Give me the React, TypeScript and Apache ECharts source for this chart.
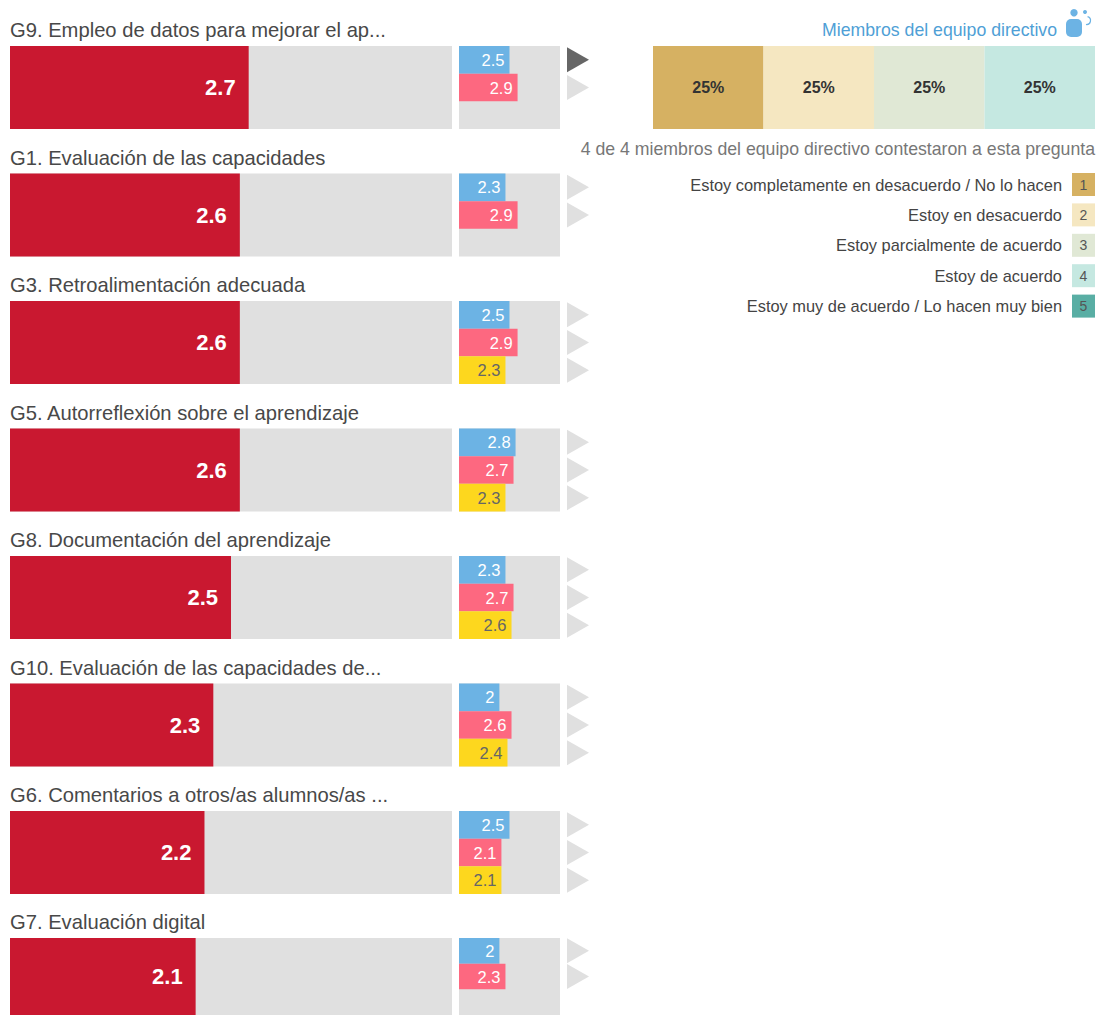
import React, { useEffect, useRef } from "react";
import * as echarts from "echarts";

const categories = [
  "G9. Empleo de datos para mejorar el ap...",
  "G1. Evaluación de las capacidades",
  "G3. Retroalimentación adecuada",
  "G5. Autorreflexión sobre el aprendizaje",
  "G8. Documentación del aprendizaje",
  "G10. Evaluación de las capacidades de...",
  "G6. Comentarios a otros/as alumnos/as ...",
  "G7. Evaluación digital",
];
const mainValues = [2.7, 2.6, 2.6, 2.6, 2.5, 2.3, 2.2, 2.1];
const blueValues = [2.5, 2.3, 2.5, 2.8, 2.3, 2, 2.5, 2];
const pinkValues = [2.9, 2.9, 2.9, 2.7, 2.7, 2.6, 2.1, 2.3];
const yellowValues: (number | null)[] = [null, null, 2.3, 2.3, 2.6, 2.4, 2.1, null];
const shareValues = [25, 25, 25, 25];
const shareColors = ["#d6b162", "#f5e7c1", "#e0e8d5", "#c5e8e1"];
const legendLabels = [
  "Estoy completamente en desacuerdo / No lo hacen",
  "Estoy en desacuerdo",
  "Estoy parcialmente de acuerdo",
  "Estoy de acuerdo",
  "Estoy muy de acuerdo / Lo hacen muy bien",
];
const legendColors = ["#d6b162", "#f5e7c1", "#e0e8d5", "#c5e8e1", "#59aea4"];
const headerLabel = "Miembros del equipo directivo";
const noteLabel = "4 de 4 miembros del equipo directivo contestaron a esta pregunta";

const FONT = "'Liberation Sans', Arial, sans-serif";
const ROW_TOPS = [46, 173.5, 301, 428.5, 556, 683.5, 811, 938];
const ROW_H = 83;
const BG = "#e0e0e0";

function buildOption() {
  const grid: any[] = [];
  const xAxis: any[] = [];
  const yAxis: any[] = [];
  const series: any[] = [];
  const graphic: any[] = [];
  let g = 0;
  const addGrid = (left: number, width: number, top: number, max: number, cats: string[], show: boolean) => {
    grid.push({
      left, width, top, height: ROW_H, show,
      backgroundColor: BG, borderWidth: 0,
    });
    xAxis.push({ type: "value", gridIndex: g, min: 0, max, show: false });
    yAxis.push({ type: "category", gridIndex: g, data: cats, inverse: true, show: false });
    return g++;
  };

  categories.forEach((name, i) => {
    graphic.push({
      type: "text", x: 10, y: ROW_TOPS[i] - 16,
      style: { text: name, fill: "#484848", font: `20.2px ${FONT}`, textAlign: "left", textVerticalAlign: "middle" },
    });
    const mg = addGrid(10, 442, ROW_TOPS[i], 5, [name], true);
    series.push({
      type: "bar", xAxisIndex: mg, yAxisIndex: mg, barWidth: "100%",
      data: [mainValues[i]], itemStyle: { color: "#c91830" },
      label: {
        show: true, position: "insideRight", distance: 13, color: "#ffffff",
        fontFamily: FONT, fontWeight: "bold", fontSize: 22,
      },
    });
    const groups = [
      { v: blueValues[i], c: "#6cb3e4", t: "#ffffff" },
      { v: pinkValues[i], c: "#fd6880", t: "#ffffff" },
      { v: yellowValues[i], c: "#fdd71e", t: "#666666" },
    ];
    const slots = ["a", "b", "c"];
    const sg = addGrid(459, 101, ROW_TOPS[i], 5, slots, true);
    series.push({
      type: "bar", xAxisIndex: sg, yAxisIndex: sg, barWidth: "100%",
      data: groups.map((d) => d.v === null ? null : ({
        value: d.v, itemStyle: { color: d.c },
        label: { color: d.t },
      })),
      label: { show: true, position: "insideRight", distance: 5, fontFamily: FONT, fontSize: 16.5 },
    });
    const tg = addGrid(567, 22, ROW_TOPS[i], 1, slots, false);
    series.push({
      type: "scatter", xAxisIndex: tg, yAxisIndex: tg,
      symbol: "triangle", symbolRotate: -90, symbolSize: [25, 22],
      data: groups.map((d, k) => d.v === null ? null : ({
        value: [0.5, k],
        itemStyle: { color: i === 0 && k === 0 ? "#666666" : BG, opacity: 1 },
      })).filter(Boolean),
    });
  });

  const pg = addGrid(653, 442, ROW_TOPS[0], 100, ["share"], false);
  shareValues.forEach((v, k) => {
    series.push({
      type: "bar", stack: "share", xAxisIndex: pg, yAxisIndex: pg, barWidth: "100%",
      data: [v], itemStyle: { color: shareColors[k] },
      label: {
        show: true, position: "inside", formatter: "{c}%", color: "#333333",
        fontFamily: FONT, fontWeight: "bold", fontSize: 16,
      },
    });
  });

  graphic.push(
    { type: "text", x: 1057, y: 30, style: { text: headerLabel, fill: "#4f9fd6", font: `17.7px ${FONT}`, textAlign: "right", textVerticalAlign: "middle" } },
    { type: "text", x: 1095, y: 148.5, style: { text: noteLabel, fill: "#777777", font: `17.7px ${FONT}`, textAlign: "right", textVerticalAlign: "middle" } },
    { type: "circle", shape: { cx: 1074, cy: 12.7, r: 3.7 }, style: { fill: "#6cb3e4" } },
    { type: "circle", shape: { cx: 1085, cy: 12, r: 2 }, style: { fill: "#6cb3e4" } },
    { type: "rect", shape: { x: 1066, y: 19, width: 16, height: 18, r: 5 }, style: { fill: "#6cb3e4" } },
    { type: "arc", shape: { cx: 1086.5, cy: 20.5, r: 4, startAngle: -1.3, endAngle: 1.7 }, style: { stroke: "#6cb3e4", fill: "none", lineWidth: 1.2 } },
  );
  legendLabels.forEach((label, k) => {
    const cy = 184.5 + k * 30.4;
    graphic.push(
      { type: "text", x: 1062, y: cy, style: { text: label, fill: "#444444", font: `16.4px ${FONT}`, textAlign: "right", textVerticalAlign: "middle" } },
      { type: "rect", shape: { x: 1072, y: cy - 11.5, width: 23, height: 23 }, style: { fill: legendColors[k] } },
      { type: "text", x: 1083.5, y: cy, style: { text: String(k + 1), fill: "#555555", font: `14px ${FONT}`, textAlign: "center", textVerticalAlign: "middle" } },
    );
  });

  return { animation: false, tooltip: { show: false }, grid, xAxis, yAxis, series, graphic };
}

export default function App() {
  const ref = useRef<HTMLDivElement>(null);
  useEffect(() => {
    const chart = echarts.init(ref.current!, undefined, { renderer: "svg" });
    chart.setOption(buildOption() as any);
    return () => chart.dispose();
  }, []);
  return <div ref={ref} style={{ position: "absolute", left: 0, top: 0, width: 1096, height: 1015, overflow: "hidden" }} />;
}
